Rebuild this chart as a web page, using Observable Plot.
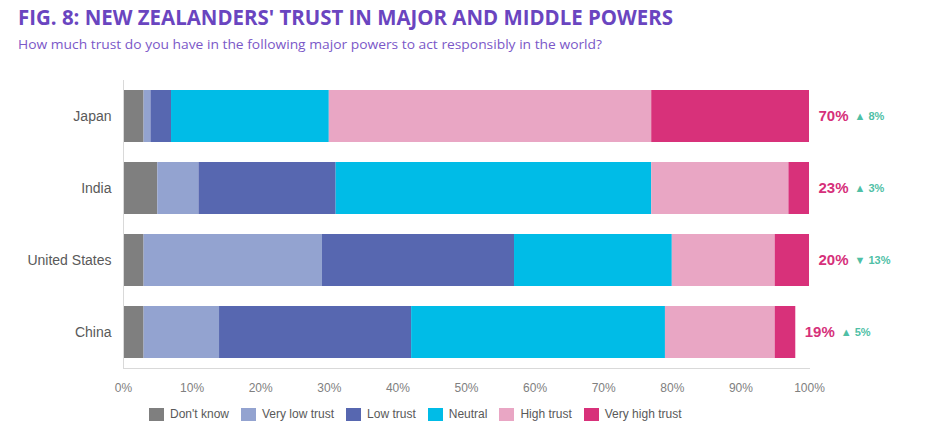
<!DOCTYPE html>
<html>
<head>
<meta charset="utf-8">
<script src="https://cdn.jsdelivr.net/npm/d3@7"></script>
<script src="https://cdn.jsdelivr.net/npm/@observablehq/plot@0.6"></script>
<style>
  html, body { margin: 0; padding: 0; background: #fff; }
  body { position: relative; width: 944px; height: 445px; overflow: hidden; font-family: "Liberation Sans", Arial, sans-serif; }
  #title { position: absolute; left: 18px; top: 4px; white-space: nowrap; font-family: "Open Sans", sans-serif; font-weight: 700; font-size: 21px; line-height: 26px; color: #6a45c0; transform-origin: 0 50%; }
  #subtitle { position: absolute; left: 18px; top: 35px; white-space: nowrap; font-family: "Open Sans", sans-serif; font-size: 13px; line-height: 18px; color: #7b58c8; transform-origin: 0 50%; }
  #chart { position: absolute; left: 0; top: 60px; }
  #legend { position: absolute; left: 149px; top: 407px; display: flex; align-items: center; font-size: 12px; color: #595959; }
  .item { display: flex; align-items: center; margin-right: 12px; }
  .sw { width: 15px; height: 13px; margin-right: 6px; }
</style>
</head>
<body>
<div id="title">FIG. 8: NEW ZEALANDERS' TRUST IN MAJOR AND MIDDLE POWERS</div>
<div id="subtitle">How much trust do you have in the following major powers to act responsibly in the world?</div>
<div id="chart"></div>
<div id="legend"></div>
<script>
const countries = ["Japan", "India", "United States", "China"];
const categories = ["Don't know", "Very low trust", "Low trust", "Neutral", "High trust", "Very high trust"];
const colors = ["#7f7f7f", "#93a3d0", "#5767b0", "#00bce7", "#e9a6c4", "#d8317a"];
const dontKnow = [3, 5, 3, 3];
const veryLowTrust = [1, 6, 26, 11];
const lowTrust = [3, 20, 28, 28];
const neutral = [23, 46, 23, 37];
const highTrust = [47, 20, 15, 16];
const veryHighTrust = [23, 3, 5, 3];
const trustLabels = ["70%", "23%", "20%", "19%"];
const changeLabels = ["▲ 8%", "▲ 3%", "▼ 13%", "▲ 5%"];
const xTicks = [0, 10, 20, 30, 40, 50, 60, 70, 80, 90, 100];

const series = [dontKnow, veryLowTrust, lowTrust, neutral, highTrust, veryHighTrust];
const rows = [];
countries.forEach((c, i) => {
  series.forEach((s, j) => rows.push({country: c, category: categories[j], value: s[i]}));
});
const totals = countries.map((c, i) => ({
  country: c,
  end: series.reduce((a, s) => a + s[i], 0),
  label: trustLabels[i],
  change: changeLabels[i]
}));

const chart = Plot.plot({
  width: 944,
  height: 340,
  marginLeft: 123,
  marginRight: 135,
  marginTop: 20,
  marginBottom: 32,
  style: {fontFamily: "Liberation Sans, Arial, sans-serif", background: "transparent"},
  x: {domain: [0, 100]},
  y: {domain: countries, paddingInner: 0.28, paddingOuter: 0.14},
  color: {domain: categories, range: colors},
  marks: [
    Plot.barX(rows, Plot.stackX({x: "value", y: "country", fill: "category", order: null})),
    Plot.ruleX([0], {stroke: "#d9d9d9"}),
    Plot.frame({anchor: "bottom", stroke: "#d9d9d9"}),
    Plot.axisX({ticks: xTicks, tickSize: 0, tickPadding: 15, tickFormat: d => d + "%", label: null, fontSize: 12, fill: "#808080"}),
    Plot.axisY({tickSize: 0, tickPadding: 12, label: null, fontSize: 14, fill: "#595959"}),
    Plot.text(totals, {x: "end", y: "country", text: "label", dx: 9, textAnchor: "start", fill: "#d6307a", fontSize: 15, fontWeight: "bold"}),
    Plot.text(totals, {x: "end", y: "country", text: "change", dx: 45, textAnchor: "start", fill: "#4fbfa6", fontSize: 11, fontWeight: "bold"})
  ]
});
document.getElementById("chart").appendChild(chart);

const legend = document.getElementById("legend");
categories.forEach((c, i) => {
  const item = document.createElement("div");
  item.className = "item";
  const sw = document.createElement("div");
  sw.className = "sw";
  sw.style.background = colors[i];
  const t = document.createElement("span");
  t.textContent = c;
  item.appendChild(sw);
  item.appendChild(t);
  legend.appendChild(item);
});

function fit(id, target) {
  const el = document.getElementById(id);
  const w = el.getBoundingClientRect().width;
  el.style.transform = "scaleX(" + (target / w) + ")";
}
fit("title", 655);
fit("subtitle", 584);
</script>
</body>
</html>
